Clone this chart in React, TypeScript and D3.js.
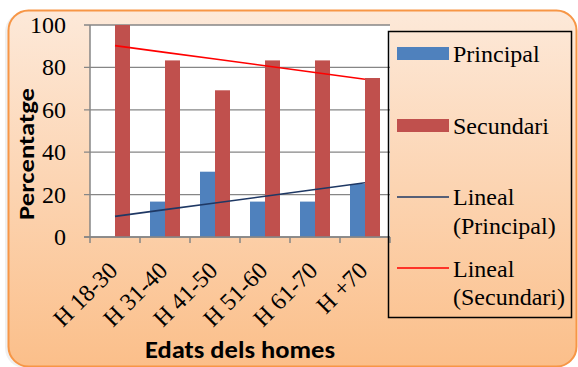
import React from "react";
import * as d3 from "d3";

const categories = ["H 18-30", "H 31-40", "H 41-50", "H 51-60", "H 61-70", "H +70"];
const principal = [0, 16.7, 30.8, 16.7, 16.7, 25];
const secundari = [100, 83.3, 69.2, 83.3, 83.3, 75];
const yTicks = [0, 20, 40, 60, 80, 100];
const seriesNames = ["Principal", "Secundari"];
const trendNames = [["Lineal", "(Principal)"], ["Lineal", "(Secundari)"]];

const W = 578, H = 367;
const plot = { left: 90, right: 390, top: 25, bottom: 237 };
const blue = "#4f81bd", red = "#c0504d", navy = "#1f3864", trendRed = "#ff0000";
const serif = "'Liberation Serif', 'Times New Roman', serif";
const sans = "Carlito, Lato, 'Open Sans', sans-serif";

function linFit(vals: number[]) {
  const xs = vals.map((_, i) => i + 1);
  const mx = d3.mean(xs)!;
  const my = d3.mean(vals)!;
  const sxy = d3.sum(xs.map((x, i) => (x - mx) * (vals[i] - my)));
  const sxx = d3.sum(xs.map((x) => (x - mx) * (x - mx)));
  const b = sxy / sxx;
  const a = my - b * mx;
  return xs.map((x) => a + b * x);
}

export default function App() {
  const x = d3.scaleBand<string>().domain(categories).range([plot.left, plot.right]).paddingInner(0).paddingOuter(0);
  const bw = x.bandwidth();
  const barW = bw * 0.3;
  const y = d3.scaleLinear().domain([0, 100]).range([plot.bottom, plot.top]);
  const cx = (c: string) => x(c)! + bw / 2;
  const line = d3.line<number>().x((_, i) => cx(categories[i])).y((v) => y(v));
  const tP = linFit(principal);
  const tS = linFit(secundari);

  return (
    <svg width={W} height={H} style={{ position: "absolute", left: 0, top: 0 }}>
      <defs>
        <linearGradient id="bg" x1="0" y1="0" x2="0" y2="1">
          <stop offset="0" stopColor="#fde9d9" />
          <stop offset="1" stopColor="#fbbf8a" />
        </linearGradient>
      </defs>
      <rect x={5} y={12} width={570} height={356} rx={20} fill="#000" opacity={0.06} />
      <rect x={8.5} y={10.5} width={568} height={356} rx={20} fill="url(#bg)" stroke="#f79646" strokeWidth={2} />
      <rect x={plot.left} y={plot.top} width={plot.right - plot.left} height={plot.bottom - plot.top} fill="#fff" />
      {yTicks.map((t) => (
        <g key={t}>
          <line x1={plot.left - 6} x2={plot.right} y1={y(t)} y2={y(t)} stroke="#868686" strokeWidth={1.3} />
          <text x={66} y={y(t) + 8} textAnchor="end" fontFamily={serif} fontSize={24} fill="#000">{t}</text>
        </g>
      ))}
      <line x1={plot.left} x2={plot.left} y1={plot.top} y2={plot.bottom} stroke="#868686" strokeWidth={1.5} />
      {categories.map((c, i) => (
        <g key={c}>
          <rect x={cx(c) - barW} y={y(principal[i])} width={barW} height={y(0) - y(principal[i])} fill={blue} />
          <rect x={cx(c)} y={y(secundari[i])} width={barW} height={y(0) - y(secundari[i])} fill={red} />
        </g>
      ))}
      {d3.range(categories.length + 1).map((i) => (
        <line key={i} x1={plot.left + i * bw} x2={plot.left + i * bw} y1={plot.bottom} y2={plot.bottom + 6} stroke="#868686" strokeWidth={1.5} />
      ))}
      <line x1={plot.left - 6} x2={plot.right} y1={plot.bottom} y2={plot.bottom} stroke="#868686" strokeWidth={1.5} />
      <path d={line(tP)!} fill="none" stroke={navy} strokeWidth={1.6} />
      <path d={line(tS)!} fill="none" stroke={trendRed} strokeWidth={1.6} />
      {categories.map((c) => (
        <text key={c} transform={`translate(${cx(c) + 4},${272}) rotate(-45)`} textAnchor="end" fontFamily={serif} fontSize={24} fill="#000">{c}</text>
      ))}
      <text transform={`translate(34,154) rotate(-90)`} textAnchor="middle" fontFamily={sans} fontWeight="bold" fontSize={23} textLength={132} lengthAdjust="spacingAndGlyphs" fill="#000">Percentatge</text>
      <text x={240} y={358} textAnchor="middle" fontFamily={sans} fontWeight="bold" fontSize={24} textLength={190} lengthAdjust="spacingAndGlyphs" fill="#000">Edats dels homes</text>
      <rect x={388.5} y={31.5} width={183} height={286} fill="none" stroke="#000" strokeWidth={1.5} />
      <rect x={397} y={47} width={52} height={13} fill={blue} />
      <text x={453} y={62} fontFamily={serif} fontSize={24} fill="#000">{seriesNames[0]}</text>
      <rect x={397} y={119} width={52} height={13} fill={red} />
      <text x={453} y={134} fontFamily={serif} fontSize={24} fill="#000">{seriesNames[1]}</text>
      <line x1={397} x2={449} y1={197} y2={197} stroke={navy} strokeWidth={1.6} />
      <text x={453} y={205} fontFamily={serif} fontSize={24} fill="#000">{trendNames[0][0]}</text>
      <text x={453} y={234} fontFamily={serif} fontSize={24} fill="#000">{trendNames[0][1]}</text>
      <line x1={397} x2={449} y1={268} y2={268} stroke={trendRed} strokeWidth={1.6} />
      <text x={453} y={277} fontFamily={serif} fontSize={24} fill="#000">{trendNames[1][0]}</text>
      <text x={453} y={305} fontFamily={serif} fontSize={24} fill="#000">{trendNames[1][1]}</text>
    </svg>
  );
}
